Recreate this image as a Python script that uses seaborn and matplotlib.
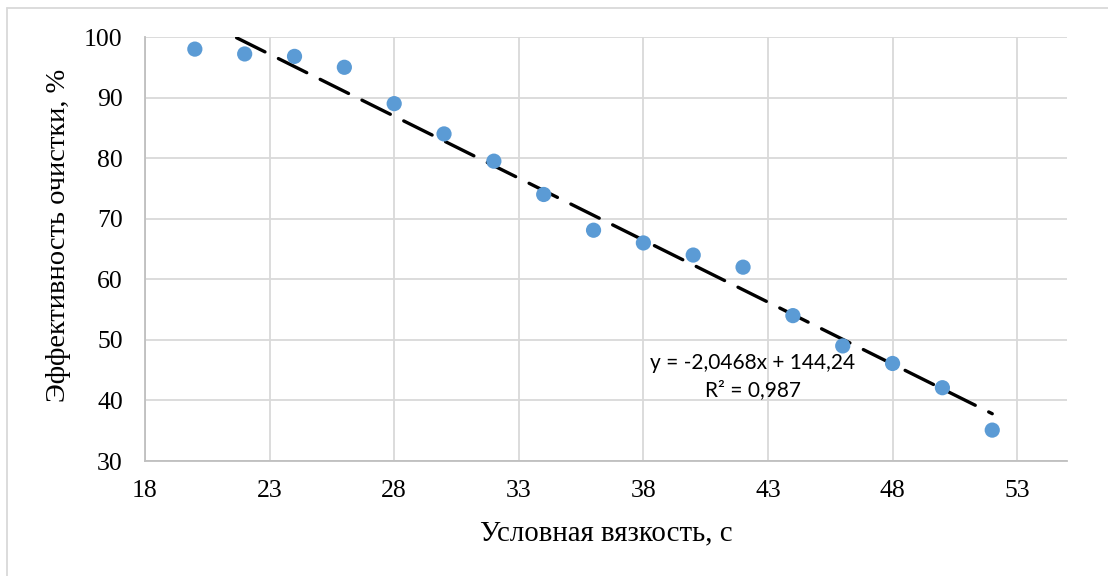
import matplotlib
matplotlib.use("Agg")
import matplotlib.pyplot as plt
from matplotlib.lines import Line2D
import seaborn as sns
import numpy as np
import pandas as pd

# Data
viscosity = [20, 22, 24, 26, 28, 30, 32, 34, 36, 38, 40, 42, 44, 46, 48, 50, 52]
efficiency = [98, 97.2, 96.8, 95, 89, 84, 79.5, 74, 68.1, 66, 64, 62, 54, 49, 46.1, 42.1, 35.1]
trend_slope = -2.0468
trend_intercept = 144.24
x_ticks = [18, 23, 28, 33, 38, 43, 48, 53]
y_ticks = [30, 40, 50, 60, 70, 80, 90, 100]
eq_text = "y = -2,0468x + 144,24"
r2_text = "R² = 0,987"
x_label = "Условная вязкость, с"
y_label = "Эффективность очистки, %"

sns.set_theme(style="white")
plt.rcParams['font.family'] = ['Liberation Serif', 'DejaVu Serif']

df = pd.DataFrame({"x": viscosity, "y": efficiency})

W, H = 1108, 576
fig = plt.figure(figsize=(W / 100, H / 100), dpi=100)
ax = fig.add_axes([145 / W, 1 - 461 / H, (1067 - 145) / W, (461 - 37) / H])

# gridlines
ax.set_axisbelow(True)
ax.grid(True, color="#d9d9d9", linewidth=1.3)

# trendline (over data range, clipped by axes)
tx = np.array([min(viscosity), max(viscosity)], dtype=float)
ty = trend_slope * tx + trend_intercept
ax.plot(tx, ty, color="black", linewidth=2.4, linestyle=(0, (9.5, 4.5)),
        dash_capstyle="round", zorder=2)

sns.scatterplot(data=df, x="x", y="y", ax=ax, color="#5B9BD5", s=120,
                edgecolor="none", zorder=3)

ax.set_xlim(18, 55)
ax.set_ylim(30, 100)
ax.set_xticks(x_ticks)
ax.set_yticks(y_ticks)
ax.tick_params(axis="both", labelsize=18.5, colors="black", length=0)
ax.tick_params(axis="y", pad=16)
ax.tick_params(axis="x", pad=14)

for s in ["top", "right"]:
    ax.spines[s].set_visible(False)
for s in ["left", "bottom"]:
    ax.spines[s].set_color("#bfbfbf")
    ax.spines[s].set_linewidth(1.3)

ax.set_xlabel("")
ax.set_ylabel("")
fig.text(606 / W, 1 - 540 / H, x_label, fontsize=20.8, ha="center", va="baseline",
         color="black")
fig.text(59 / W, 1 - 235 / H, y_label, fontsize=20.5, ha="center", va="center",
         rotation=90, color="black")

ax.text(42.4, 46.2, eq_text, fontsize=15, ha="center", va="center",
        family=["Lato", "DejaVu Sans"], color="black", zorder=4)
ax.text(42.4, 41.75, r2_text, fontsize=15, ha="center", va="center",
        family=["Lato", "DejaVu Sans"], color="black", zorder=4)

# outer chart border (top and left visible)
fig.add_artist(Line2D([7 / W, 7 / W], [0, 1 - 8 / H], color="#d9d9d9", lw=1.3))
fig.add_artist(Line2D([7 / W, 1], [1 - 8 / H, 1 - 8 / H], color="#d9d9d9", lw=1.3))

fig.savefig("out.png", dpi=100)
